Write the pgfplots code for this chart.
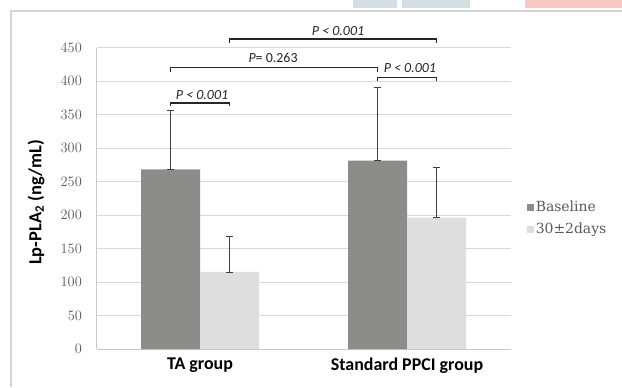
\documentclass[border=0pt]{standalone}
\usepackage{fontspec}
\usepackage{pgfplots}
\pgfplotsset{compat=1.18}
\newfontfamily\carlito{Carlito}
\newfontfamily\dvserif{DejaVu Serif}
\definecolor{basegray}{HTML}{8C8C8A}
\definecolor{lightbar}{HTML}{DEDEDE}
\definecolor{gridgray}{HTML}{D9D9D9}
\definecolor{axgray}{HTML}{C8C8C8}
\definecolor{tickgray}{HTML}{595959}
\definecolor{framegray}{HTML}{D4D4D4}
\definecolor{wmpink}{HTML}{F6C9C4}
\definecolor{wmblue}{HTML}{D3DEE5}
\begin{document}
\begin{tikzpicture}[x=1bp,y=1bp]
\useasboundingbox (0,0) rectangle (622,387);
\fill[white] (0,0) rectangle (622,387);
% watermark remnants
\fill[wmpink] (525,379) rectangle (622,387);
\fill[wmblue] (353,379) rectangle (397,387);
\fill[wmblue] (402,379) rectangle (470,387);
% outer frame
\draw[framegray, line width=1.5bp] (11,0) -- (11,376) -- (622,376);
\begin{axis}[
  at={(96.5bp,38bp)}, anchor=south west,
  scale only axis, width=414bp, height=301.5bp,
  ymin=0, ymax=450, xmin=-0.5, xmax=1.5,
  ybar=0pt, bar width=59bp,
  ytick={0,50,...,450},
  xtick={0,1}, xticklabels={TA group, Standard PPCI group},
  ymajorgrids, grid style={gridgray, line width=0.8bp},
  axis x line*=bottom, axis y line*=left,
  axis line style={axgray, line width=0.8bp},
  major tick length=0pt,
  clip=false,
  yticklabel style={font=\fontsize{15}{15}\selectfont, color=tickgray, inner sep=0pt, xshift=-14.5bp},
  xticklabel style={font=\carlito\bfseries\fontsize{18}{18}\selectfont, inner sep=0pt, yshift=-9bp, anchor=north},
  ylabel={Lp-PLA\textsubscript{2} (ng/mL)},
  every axis y label/.style={at={(axis description cs:-0.146,0.486)}, rotate=90, anchor=center,
    font=\carlito\bfseries\fontsize{18.5}{18.5}\selectfont},
  legend style={at={(axis description cs:1.04,0.434)}, anchor=west, draw=none, fill=none,
    font=\dvserif\fontsize{14}{14}\selectfont, row sep=10bp, inner sep=0pt,
    nodes={inner xsep=1.5bp, inner ysep=0pt, text=tickgray}},
  legend cell align=left,
  legend image code/.code={\fill[#1] (0bp,-3.5bp) rectangle (7bp,3.5bp);},
]
\addplot[fill=basegray, draw=none,
  error bars/.cd, y dir=both, y explicit, error bar style={line width=0.9bp, color=black!75},
  error mark options={line width=0.9bp, color=black!75, mark size=3.5bp, rotate=90}]
  coordinates {(0,268) += (0,88) -= (0,0) (1,281) += (0,110) -= (0,0)};
\addplot[fill=lightbar, draw=none,
  error bars/.cd, y dir=both, y explicit, error bar style={line width=0.9bp, color=black!75},
  error mark options={line width=0.9bp, color=black!75, mark size=3.5bp, rotate=90}]
  coordinates {(0,115) += (0,53) -= (0,0) (1,196) += (0,75) -= (0,0)};
\legend{Baseline, 30±2days}
% significance brackets
\draw[black!85, line width=1.6bp] (axis cs:-0.1425,362) -- (axis cs:-0.1425,367.5) -- (axis cs:0.1425,367.5) -- (axis cs:0.1425,362);
\draw[black!85, line width=1.6bp] (axis cs:-0.1425,414) -- (axis cs:-0.1425,420) -- (axis cs:0.8575,420) -- (axis cs:0.8575,414);
\draw[black!85, line width=1.6bp] (axis cs:0.1425,456) -- (axis cs:0.1425,463) -- (axis cs:1.1425,463) -- (axis cs:1.1425,456);
\draw[black!85, line width=1.6bp] (axis cs:0.8575,400) -- (axis cs:0.8575,405) -- (axis cs:1.1425,405) -- (axis cs:1.1425,400);
\node[font=\carlito\itshape\fontsize{14}{14}\selectfont, text=black!85] at (axis cs:0.01,379) {P < 0.001};
\node[font=\carlito\fontsize{14}{14}\selectfont, text=black!85] at (axis cs:0.353,434) {{\itshape P}= 0.263};
\node[font=\carlito\itshape\fontsize{14}{14}\selectfont, text=black!85] at (axis cs:0.667,475) {P < 0.001};
\node[font=\carlito\itshape\fontsize{14}{14}\selectfont, text=black!85] at (axis cs:1.014,420) {P < 0.001};
\end{axis}
\end{tikzpicture}
\end{document}
